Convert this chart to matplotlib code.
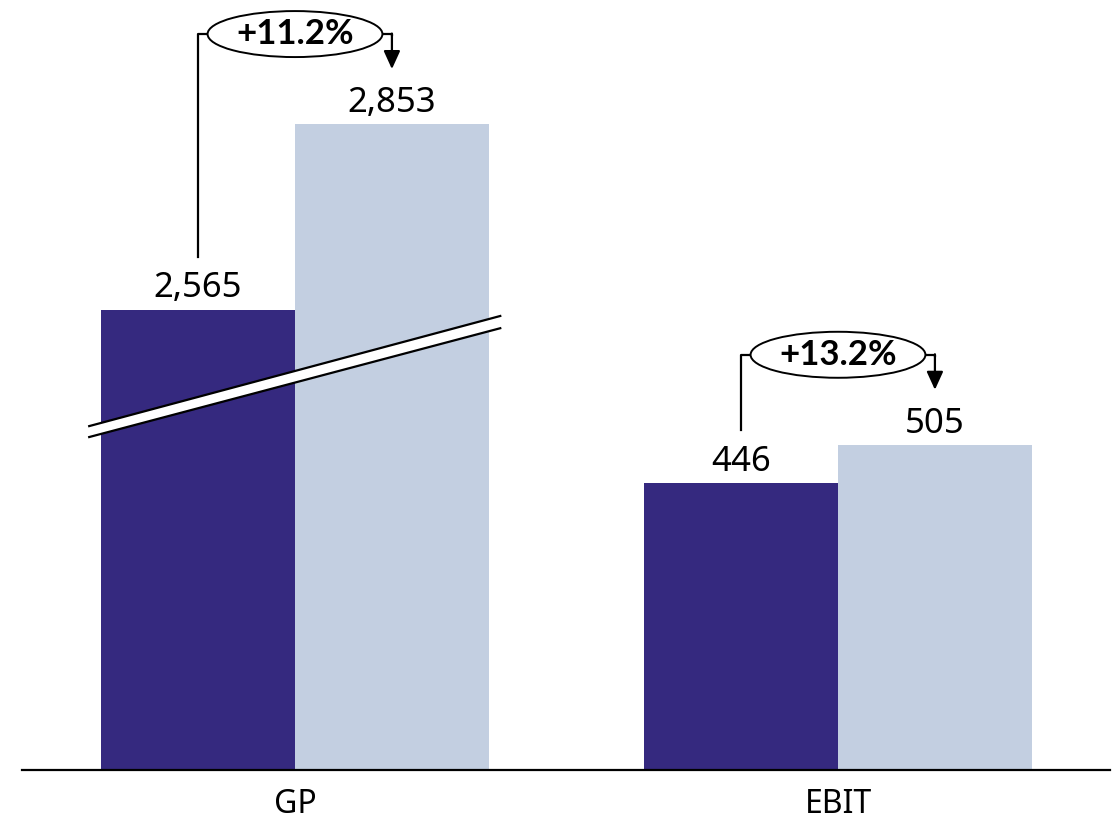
import matplotlib
matplotlib.use("Agg")
import matplotlib.pyplot as plt
from matplotlib.patches import Ellipse, Polygon

plt.rcParams['font.family'] = ['Noto Sans', 'DejaVu Sans']

# dados
categorias = ["GP", "EBIT"]
anterior = [2565, 446]
atual = [2853, 505]
crescimento = ["+11.2%", "+13.2%"]
corte = [1850, 0]  # quanto o eixo quebrado esconde de cada grupo

cor_ant = "#35297F"
cor_atu = "#C3CFE1"
larg = 0.357
px = 1 / 0.644  # unidades de dados por pixel (vertical)

fig = plt.figure(figsize=(11.19, 8.21), dpi=100)
ax = fig.add_axes([22 / 1119, 51 / 821, 1088 / 1119, 770 / 821])

x = range(len(categorias))
alt_ant = [v - c for v, c in zip(anterior, corte)]
alt_atu = [v - c for v, c in zip(atual, corte)]
ax.bar([i - larg / 2 for i in x], alt_ant, width=larg, color=cor_ant)
ax.bar([i + larg / 2 for i in x], alt_atu, width=larg, color=cor_atu)

for i in x:
    xa = i - larg / 2
    xb = i + larg / 2
    ax.annotate(f"{anterior[i]:,}", (xa, alt_ant[i]), xytext=(0, 3), textcoords="offset points",
                ha="center", va="bottom", fontsize=25)
    ax.annotate(f"{atual[i]:,}", (xb, alt_atu[i]), xytext=(0, 3), textcoords="offset points",
                ha="center", va="bottom", fontsize=25)

    # conector com elipse e seta
    nivel = alt_atu[i] + 90 * px
    base = alt_ant[i] + 53 * px
    ponta = alt_atu[i] + 55 * px
    meia = 0.161
    ax.plot([xa, xa, i - meia], [base, nivel, nivel], color="black", lw=1.6)
    ax.plot([i + meia, xb, xb], [nivel, nivel, nivel - 2], color="black", lw=1.6)
    ax.annotate("", xy=(xb, ponta), xytext=(xb, nivel + 0.5 * px),
                arrowprops=dict(arrowstyle="-|>,head_length=0.55,head_width=0.25",
                                color="black", lw=1.6, mutation_scale=20,
                                shrinkA=0, shrinkB=0))
    ax.add_patch(Ellipse((i, nivel), 2 * meia, 46 * px, facecolor="white",
                         edgecolor="black", lw=1.4, zorder=3))
    ax.text(i, nivel, crescimento[i], ha="center", va="center", fontsize=25,
            fontweight="bold", family=["Lato", "DejaVu Sans"], zorder=4)

# quebra do eixo no GP
sup = [(-0.379, 534), (0.378, 705)]
inf = [(-0.379, 517), (0.378, 686)]
ax.add_patch(Polygon(sup + inf[::-1], closed=True, facecolor="white", edgecolor="none", zorder=2))
ax.plot([p[0] for p in sup], [p[1] for p in sup], color="black", lw=1.6, zorder=2)
ax.plot([p[0] for p in inf], [p[1] for p in inf], color="black", lw=1.6, zorder=2)

ax.set_xlim(-273 / 543, 815 / 543)
ax.set_ylim(0, 770 * px)
ax.set_xticks(list(x))
ax.set_xticklabels(categorias, fontsize=23)
ax.tick_params(axis="x", length=0, pad=13)
ax.set_yticks([])
for s in ["top", "right", "left"]:
    ax.spines[s].set_visible(False)
ax.spines["bottom"].set_linewidth(1.6)

fig.savefig("out.png", dpi=100)
